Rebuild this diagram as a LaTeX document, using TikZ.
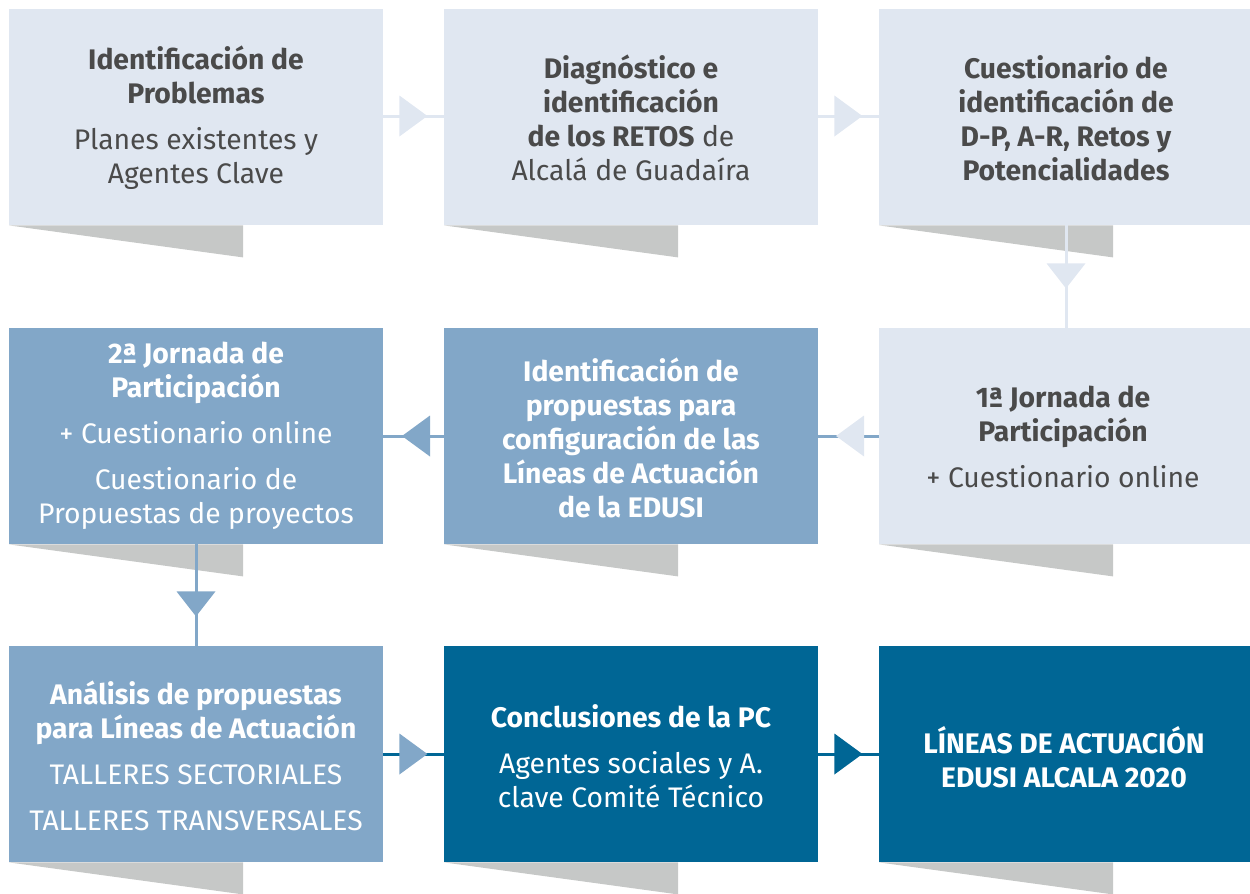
\documentclass[tikz,border=0pt]{standalone}
\usepackage{fontspec}
\setmainfont{Fira Sans}
\usetikzlibrary{decorations.markings}
\definecolor{lightc}{HTML}{E0E7F1}
\definecolor{medc}{HTML}{82A7C8}
\definecolor{darkc}{HTML}{006695}
\definecolor{shadc}{HTML}{C6C8C7}
\definecolor{txtc}{HTML}{4A4A4A}
\begin{document}
\begin{tikzpicture}[x=1pt,y=-1pt,
  box/.style={anchor=north west, minimum width=374pt, minimum height=216pt, inner sep=0pt, draw=none},
  boxL/.style={box, fill=lightc},
  boxM/.style={box, fill=medc},
  boxD/.style={box, fill=darkc},
  txt/.style={align=center, inner sep=0pt, font=\fontsize{28.3}{34}\selectfont},
  txtG/.style={txt, text=txtc},
  txtW/.style={txt, text=white},
  conn/.style={line width=3pt},
  htri/.style 2 args={postaction=decorate, decoration={markings, mark=at position #1 with {\fill[#2] (-28,-20.5) -- (0,0) -- (-28,20.5) -- cycle;}}},
  vtri/.style 2 args={postaction=decorate, decoration={markings, mark=at position #1 with {\fill[#2] (-25,-19.5) -- (0,0) -- (-25,19.5) -- cycle;}}}
]
\useasboundingbox (0,0) rectangle (1250,894);
% boxes
\node[boxL] (b11) at (9,9) {};
\node[boxL] (b12) at (444,9) {};
\node[boxL, minimum width=371pt] (b13) at (879,9) {};
\node[boxM] (b21) at (9,328) {};
\node[boxM] (b22) at (444,328) {};
\node[boxL, minimum width=371pt] (b23) at (879,328) {};
\node[boxM] (b31) at (9,646) {};
\node[boxD] (b32) at (444,646) {};
\node[boxD, minimum width=371pt] (b33) at (879,646) {};
% shadows
\foreach \b in {b11,b12,b13,b21,b22,b23,b31,b32,b33}{
  \fill[shadc] (\b.south west) -- ++(234,0) -- ++(0,32) -- cycle;
}
% connectors
\draw[conn, lightc, htri={44pt}{lightc}] (b11.east |- 0,116) -- (b12.west |- 0,116);
\draw[conn, lightc, htri={44pt}{lightc}] (b12.east |- 0,116) -- (b13.west |- 0,116);
\draw[conn, lightc, vtri={63pt}{lightc}] (b13.south -| 1066,0) -- (b23.north -| 1066,0);
\draw[conn, medc, htri={43pt}{lightc}] (b23.west |- 0,436) -- (b22.east |- 0,436);
\draw[conn, medc, htri={42pt}{medc}] (b22.west |- 0,436) -- (b21.east |- 0,436);
\draw[conn, medc, vtri={72pt}{medc}] (b21.south -| 196,0) -- (b31.north -| 196,0);
\draw[conn, darkc, htri={44pt}{medc}] (b31.east |- 0,754) -- (b32.west |- 0,754);
\draw[conn, darkc, htri={44pt}{darkc}] (b32.east |- 0,754) -- (b33.west |- 0,754);
% texts
\node[txtG] (t11) at (196,118) {\textbf{Identificación de}\\\textbf{Problemas}\\[12pt]Planes existentes y\\Agentes Clave};
\node[txtG] (t12) at (631,118) {\textbf{Diagnóstico e}\\\textbf{identificación}\\\textbf{de los RETOS} de\\Alcalá de Guadaíra};
\node[txtG] (t13) at (1066,118) {\textbf{Cuestionario de}\\\textbf{identificación de}\\\textbf{D-P, A-R, Retos y}\\\textbf{Potencialidades}};
\node[txtW] (t21) at (196,436) {\textbf{2ª Jornada de}\\\textbf{Participación}\\[12pt]+ Cuestionario online\\[12pt]Cuestionario de\\Propuestas de proyectos};
\node[txtW] (t22) at (631,438) {\textbf{Identificación de}\\\textbf{propuestas para}\\\textbf{configuración de las}\\\textbf{Líneas de Actuación}\\\textbf{de la EDUSI}};
\node[txtG] (t23) at (1063,437) {\textbf{1ª Jornada de}\\\textbf{Participación}\\[12pt]+ Cuestionario online};
\node[txtW] (t31) at (196,756) {\textbf{Análisis de propuestas}\\\textbf{para Líneas de Actuación}\\[12pt]TALLERES SECTORIALES\\[12pt]TALLERES TRANSVERSALES};
\node[txtW] (t32) at (631,756) {\textbf{Conclusiones de la PC}\\[12pt]Agentes sociales y A.\\clave Comité Técnico};
\node[txtW] (t33) at (1064,757) {\textbf{LÍNEAS DE ACTUACIÓN}\\\textbf{EDUSI ALCALA 2020}};
\end{tikzpicture}
\end{document}
